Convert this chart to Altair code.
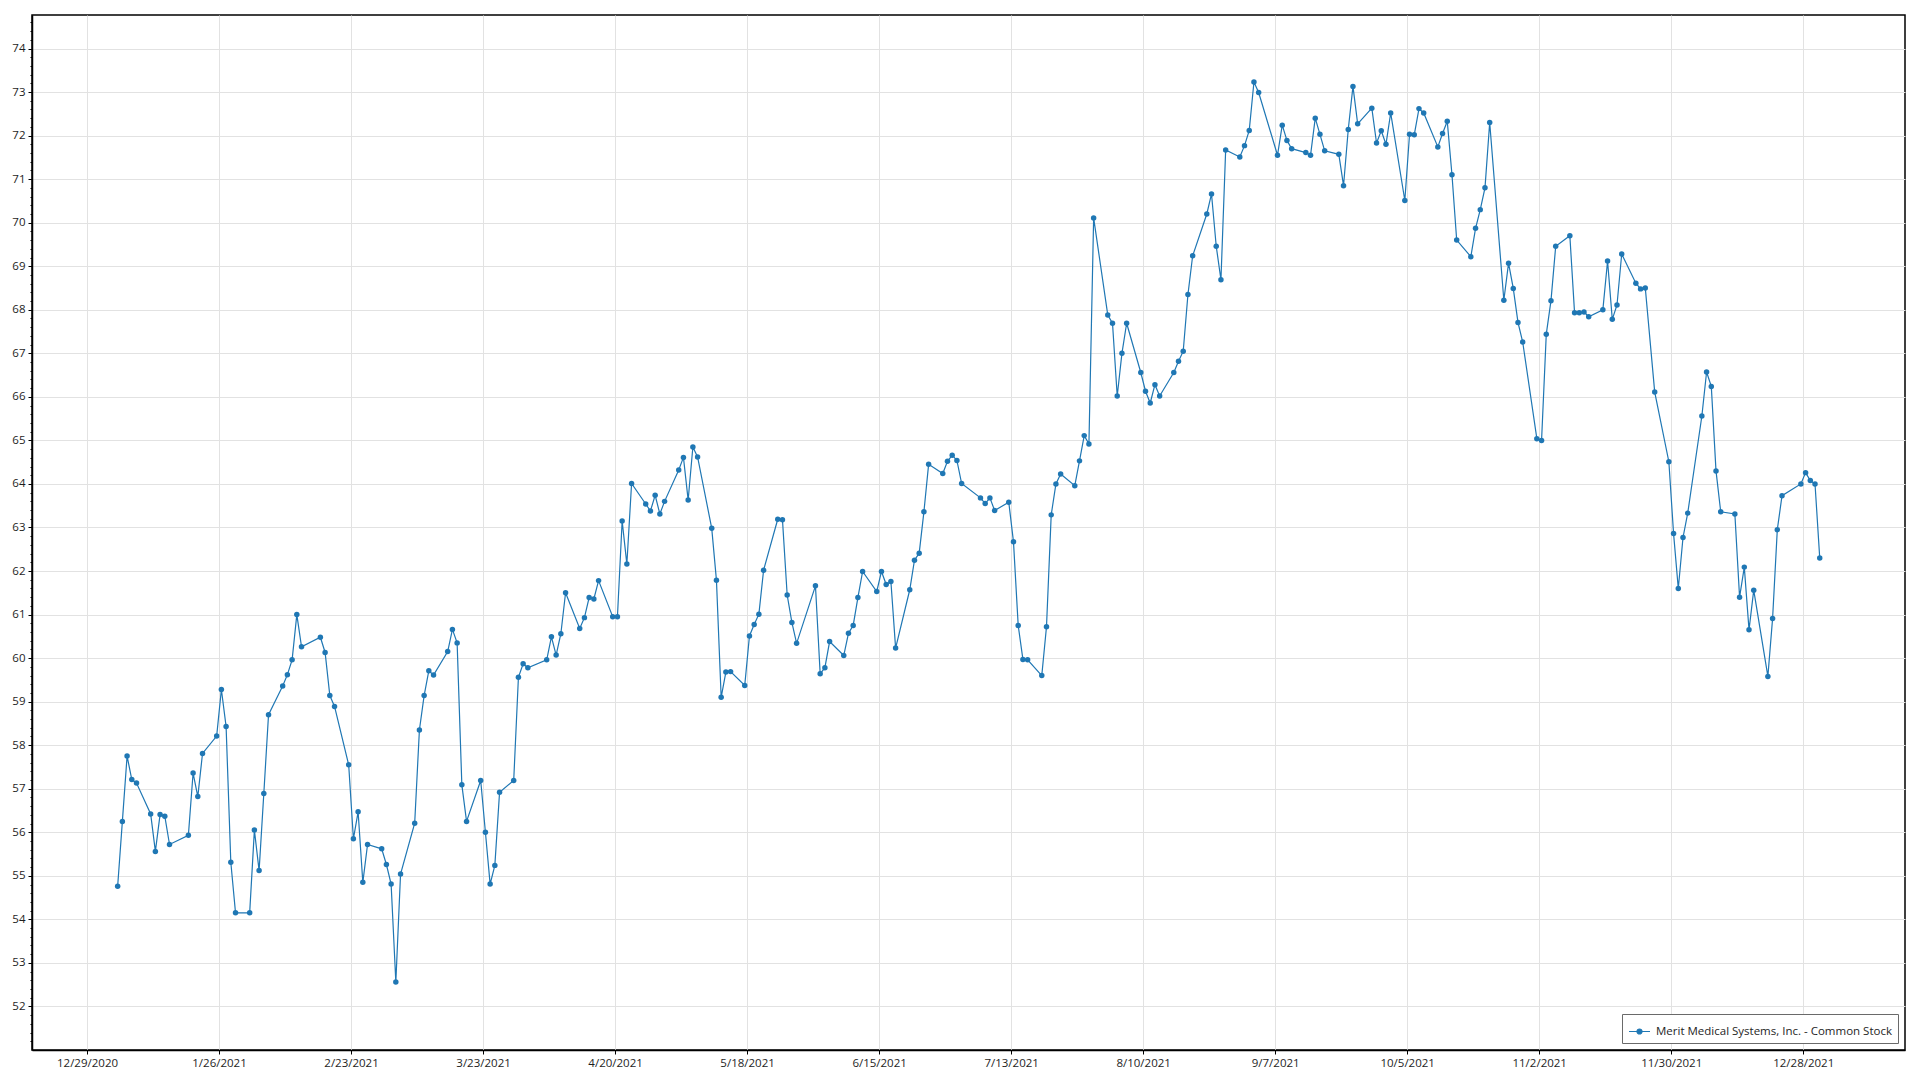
import altair as alt
import pandas as pd

SERIES = "Merit Medical Systems, Inc. - Common Stock"
BLUE = "#1f77b4"
FONT = "Open Sans"

# trading days (day of month) and closing prices for 2021, month by month
jan_days = [4, 5, 6, 7, 8, 11, 12, 13, 14, 15, 19, 20, 21, 22, 25, 26, 27, 28, 29]
jan = [54.76, 56.25, 57.75, 57.21, 57.13, 56.42, 55.56, 56.41, 56.37, 55.72, 55.93, 57.36, 56.82, 57.81, 58.21, 59.28, 58.43, 55.31, 54.15]

feb_days = [1, 2, 3, 4, 5, 8, 9, 10, 11, 12, 16, 17, 18, 19, 22, 23, 24, 25, 26]
feb = [54.15, 56.05, 55.12, 56.89, 58.70, 59.36, 59.62, 59.96, 61.00, 60.26, 60.48, 60.13, 59.14, 58.89, 57.55, 55.85, 56.47, 54.85, 55.72]

mar_days = [1, 2, 3, 4, 5, 8, 9, 10, 11, 12, 15, 16, 17, 18, 19, 22, 23, 24, 25, 26, 29, 30, 31]
mar = [55.62, 55.26, 54.81, 52.56, 55.04, 56.21, 58.35, 59.14, 59.71, 59.61, 60.15, 60.66, 60.35, 57.09, 56.25, 57.19, 56.00, 54.81, 55.24, 56.92, 57.19, 59.56, 59.87]

apr_days = [1, 5, 6, 7, 8, 9, 12, 13, 14, 15, 16, 19, 20, 21, 22, 23, 26, 27, 28, 29, 30]
apr = [59.78, 59.96, 60.49, 60.07, 60.56, 61.50, 60.68, 60.93, 61.39, 61.36, 61.78, 60.95, 60.95, 63.15, 62.16, 64.01, 63.54, 63.38, 63.74, 63.31, 63.60]

may_days = [3, 4, 5, 6, 7, 10, 11, 12, 13, 14, 17, 18, 19, 20, 21, 24, 25, 26, 27, 28]
may = [64.32, 64.61, 63.63, 64.85, 64.62, 62.98, 61.79, 59.10, 59.68, 59.69, 59.37, 60.51, 60.77, 61.01, 62.02, 63.19, 63.18, 61.45, 60.82, 60.34]

jun_days = [1, 2, 3, 4, 7, 8, 9, 10, 11, 14, 15, 16, 17, 18, 21, 22, 23, 24, 25, 28, 29, 30]
jun = [61.66, 59.64, 59.78, 60.38, 60.06, 60.57, 60.75, 61.39, 61.99, 61.53, 61.99, 61.69, 61.76, 60.23, 61.57, 62.25, 62.41, 63.36, 64.45, 64.24, 64.52, 64.66]

jul_days = [1, 2, 6, 7, 8, 9, 12, 13, 14, 15, 16, 19, 20, 21, 22, 23, 26, 27, 28, 29, 30]
jul = [64.54, 64.01, 63.68, 63.55, 63.68, 63.39, 63.58, 62.67, 60.75, 59.97, 59.96, 59.60, 60.72, 63.29, 64.00, 64.23, 63.96, 64.53, 65.11, 64.92, 70.11]

aug_days = [2, 3, 4, 5, 6, 9, 10, 11, 12, 13, 16, 17, 18, 19, 20, 23, 24, 25, 26, 27, 30, 31]
aug = [67.88, 67.69, 66.02, 67.00, 67.69, 66.56, 66.13, 65.86, 66.28, 66.02, 66.56, 66.82, 67.05, 68.35, 69.24, 70.20, 70.66, 69.46, 68.69, 71.67, 71.51, 71.77]

sep_days = [1, 2, 3, 7, 8, 9, 10, 13, 14, 15, 16, 17, 20, 21, 22, 23, 24, 27, 28, 29, 30]
sep = [72.12, 73.23, 72.99, 71.55, 72.24, 71.89, 71.70, 71.61, 71.55, 72.40, 72.03, 71.65, 71.57, 70.85, 72.14, 73.13, 72.27, 72.63, 71.83, 72.11, 71.80]

oct_days = [1, 4, 5, 6, 7, 8, 11, 12, 13, 14, 15, 18, 19, 20, 21, 22, 25, 26, 27, 28, 29]
oct_ = [72.52, 70.51, 72.03, 72.02, 72.62, 72.52, 71.74, 72.05, 72.33, 71.10, 69.60, 69.22, 69.87, 70.30, 70.80, 72.30, 68.22, 69.07, 68.49, 67.71, 67.26]

nov_days = [1, 2, 3, 4, 5, 8, 9, 10, 11, 12, 15, 16, 17, 18, 19, 22, 23, 24, 26, 29, 30]
nov = [65.04, 65.00, 67.44, 68.21, 69.46, 69.70, 67.93, 67.93, 67.95, 67.84, 68.00, 69.12, 67.78, 68.11, 69.28, 68.61, 68.48, 68.50, 66.11, 64.51, 62.86]

dec_days = [1, 2, 3, 6, 7, 8, 9, 10, 13, 14, 15, 16, 17, 20, 21, 22, 23, 27, 28, 29, 30, 31]
dec = [61.60, 62.77, 63.33, 65.56, 66.57, 66.24, 64.30, 63.36, 63.31, 61.40, 62.09, 60.65, 61.56, 59.58, 60.91, 62.95, 63.73, 64.00, 64.26, 64.08, 64.00, 62.30]

x_tick_dates = [(2020, 12, 29), (2021, 1, 26), (2021, 2, 23), (2021, 3, 23), (2021, 4, 20),
                (2021, 5, 18), (2021, 6, 15), (2021, 7, 13), (2021, 8, 10), (2021, 9, 7),
                (2021, 10, 5), (2021, 11, 2), (2021, 11, 30), (2021, 12, 28)]
y_minor_step = 0.2
y_lo, y_hi = 51.0, 74.77

months = [(jan_days, jan), (feb_days, feb), (mar_days, mar), (apr_days, apr),
          (may_days, may), (jun_days, jun), (jul_days, jul), (aug_days, aug),
          (sep_days, sep), (oct_days, oct_), (nov_days, nov), (dec_days, dec)]

rows = []
for m, (days, vals) in enumerate(months, start=1):
    for d, v in zip(days, vals):
        rows.append({"date": f"2021-{m:02d}-{d:02d}T12:00:00Z", "price": v, "series": SERIES})
df = pd.DataFrame(rows)

x_values = [alt.DateTime(year=y, month=m, date=d, utc=True) for (y, m, d) in x_tick_dates]
x_domain = [alt.DateTime(year=2020, month=12, date=17, hours=8, utc=True),
            alt.DateTime(year=2022, month=1, date=18, hours=14, utc=True)]

y_values = []
k = 1
while y_lo + k * y_minor_step <= y_hi:
    y_values.append(round(y_lo + k * y_minor_step, 1))
    k += 1

is_major = "abs(datum.value - round(datum.value)) < 0.01"

xaxis = alt.Axis(
    values=x_values, tickCount=100,
    labelExpr="utcFormat(datum.value, '%-m/%-d/%Y')",
    grid=True, gridColor="#e2e2e2", gridWidth=1,
    tickSize=4, tickColor="#000000", tickWidth=1,
    domainColor="#000000", domainWidth=1.5,
    labelFont=FONT, labelFontSize=11.5, labelColor="#1e1e1e", labelPadding=3,
    labelOverlap=False, labelFlush=False, title=None,
)
yaxis = alt.Axis(
    values=y_values, tickCount=1000,
    labelExpr=f"{is_major} ? format(datum.value, 'd') : ''",
    grid=True, gridColor="#e2e2e2", gridWidth=1,
    gridOpacity={"condition": {"test": is_major, "value": 1}, "value": 0},
    tickSize={"condition": {"test": is_major, "value": 4}, "value": 2},
    tickColor="#000000", tickWidth=1,
    domainColor="#000000", domainWidth=1.5,
    labelFont=FONT, labelFontSize=11.5, labelColor="#1e1e1e", labelPadding=3,
    labelOverlap=False, labelFlush=False, title=None,
)

x_enc = alt.X("date:T", scale=alt.Scale(type="utc", domain=x_domain, nice=False), axis=xaxis, title=None)
y_enc = alt.Y("price:Q", scale=alt.Scale(domain=[y_lo, y_hi], nice=False, zero=False), axis=yaxis, title=None)

legend = alt.Legend(
    title=None, orient="bottom-right", offset=7, padding=6,
    strokeColor="#6a6a6a", fillColor="#ffffff", cornerRadius=0,
    symbolType="M-1,0L1,0M-0.24,0A0.24,0.24,0,1,1,0.24,0A0.24,0.24,0,1,1,-0.24,0Z",
    symbolSize=441, symbolStrokeWidth=1.2,
    symbolFillColor=BLUE, symbolStrokeColor=BLUE,
    labelFont=FONT, labelFontSize=11.5, labelColor="#1e1e1e", labelLimit=500, labelOffset=5,
)

line = alt.Chart(df).mark_line(strokeWidth=1.2).encode(
    x=x_enc, y=y_enc,
    color=alt.Color("series:N", scale=alt.Scale(range=[BLUE]), legend=legend),
)
points = alt.Chart(df).mark_circle(size=30, opacity=1, color=BLUE).encode(
    x=alt.X("date:T"), y=alt.Y("price:Q"),
)

chart = alt.layer(line, points).properties(
    width=1873, height=1035,
    padding={"left": 24, "top": 7, "right": 5, "bottom": 18},
    autosize=alt.AutoSizeParams(type="none"),
    background="#ffffff",
).configure_view(stroke="#000000", strokeWidth=1.5)

chart.save("out.html", embed_options={"renderer": "svg", "actions": False})
